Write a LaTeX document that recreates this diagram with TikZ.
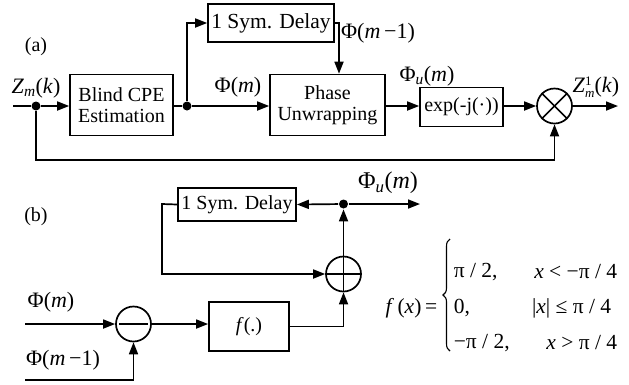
\documentclass[tikz,border=0pt]{standalone}
\usepackage{amsmath}
\usepackage{fontspec}
\setmainfont{Liberation Serif}
\usetikzlibrary{arrows.meta,decorations.pathreplacing}
\newcommand{\supsub}[2]{\rlap{\raisebox{7pt}{\fontsize{13}{13}\selectfont #1}}\raisebox{-5pt}{\fontsize{13}{13}\selectfont #2}}
\begin{document}
\begin{tikzpicture}[x=1pt,y=-1pt,
  font=\fontsize{20}{23}\selectfont,
  line width=1.7pt,
  >={Triangle[length=12pt,width=9pt]},
  blk/.style={draw, line width=1.7pt, inner sep=0pt, align=center},
  dotn/.style={circle, fill, inner sep=0pt, minimum size=9pt},
  op/.style={circle, draw, line width=1.7pt, minimum size=35pt, inner sep=0pt},
  lbl/.style={inner sep=0pt},
  mlbl/.style={inner sep=0pt, font=\fontsize{22}{25}\selectfont},
  eq/.style={inner sep=0pt, font=\fontsize{21.5}{24}\selectfont}]
\useasboundingbox (0,0) rectangle (629,384);

% ---------- panel (a) ----------
\node[lbl] (la) at (36,47) {(a)};
\coordinate (in) at (13,106);
\node[dotn] (d1) at (36,106) {};
\node[blk, minimum width=103pt, minimum height=61pt] (cpe) at (121.5,105) {Blind CPE\\[-2pt]Estimation};
\node[dotn] (d2) at (187,106) {};
\node[blk, minimum width=126pt, minimum height=38pt, font=\fontsize{21.5}{24}\selectfont] (dly1) at (271,23) {1 Sym. Delay};
\node[blk, minimum width=115pt, minimum height=61pt] (phase) at (327.5,105) {Phase\\[-2pt]Unwrapping};
\node[blk, minimum width=83pt, minimum height=39pt] (exp) at (461.5,107) {exp(-j(·))};
\node[op] (mult) at (554.5,106) {};
\coordinate (out) at (618,106);
\coordinate (c1) at (339,23);
\coordinate (fb) at (36,160);

\draw (in) -- (d1);
\draw[->] (d1) -- (cpe.west |- d1);
\draw (cpe.east |- d2) -- (d2);
\draw[->] (d2) -- (phase.west |- d2);
\draw[->] (d2) |- (dly1.west);
\draw[->] (dly1.east) -- (c1) -- (c1 |- phase.north);
\draw[->] (phase.east |- d2) -- (exp.west |- d2);
\draw[->] (exp.east |- d2) -- (mult.west);
\draw[->] (mult.east) -- (out);
\draw[->] (d1) -- (fb) -| (mult.south);
\draw (mult.north east) -- (mult.south west);
\draw (mult.north west) -- (mult.south east);

\node[mlbl] (lz) at (36,88) {\textit{Z}$_{\textit{m}}$(\textit{k})};
\node[mlbl] (lphi) at (238,87) {Φ(\textit{m})};
\node[mlbl] (lphi1) at (378,33) {Φ(\textit{m}\,−1)};
\node[mlbl] (lphiu) at (427,76) {Φ$_{\textit{u}}$(\textit{m})};
\node[mlbl] (lz1) at (596,87) {\textit{Z}\supsub{1}{\textit{m}}(\textit{k})};

% ---------- panel (b) ----------
\node[lbl] (lb) at (36,217) {(b)};
\node[blk, minimum width=118pt, minimum height=33pt] (dly2) at (237,204.5) {1 Sym. Delay};
\node[dotn] (db) at (343.5,204) {};
\coordinate (ob) at (420,204);
\node[op] (add) at (343.5,274) {};
\node[op] (sub) at (133.5,324) {};
\node[blk, minimum width=80pt, minimum height=49pt] (fbox) at (249,326.5) {\textit{f}(.)};
\coordinate (fbk) at (162,204);
\coordinate (inm) at (25,324);
\coordinate (inm1) at (25,380);

\draw[->] (db) -- (dly2.east);
\draw[->] (db) -- (ob);
\draw[->] (dly2.west) -- (fbk) |- (add.west);
\draw[->] (add.north) -- (db);
\draw (add.west) -- (add.east);
\draw (add.north) -- (add.south);
\draw[->] (inm) -- (sub.west);
\draw[->] (inm1) -| (sub.south);
\draw ([xshift=4pt]sub.west) -- ([xshift=-4pt]sub.east);
\draw[->] (sub.east) -- (fbox.west |- sub.east);
\draw[->] (fbox.east) -| (add.south);

\node[mlbl, font=\fontsize{24}{27}\selectfont] (lphiub) at (388,183) {Φ$_{\textit{u}}$(\textit{m})};
\node[mlbl] (lphib) at (51,302) {Φ(\textit{m})};
\node[mlbl] (lphib1) at (63,360) {Φ(\textit{m}\,−1)};

% equation
\node[eq, anchor=east] (feq) at (438,308) {\textit{f}\,(\textit{x})\,=};
\coordinate (bt) at (450,239);
\coordinate (bb) at (450,351);
\draw[line width=1.1pt, decorate, decoration={brace, amplitude=7pt}] (bb) -- (bt);
\node[eq, anchor=west] (r1a) at (453,272) {π / 2,};
\node[eq, anchor=east] (r1b) at (618,272) {\textit{x} < −π / 4};
\node[eq, anchor=west] (r2a) at (453,308) {0,};
\node[eq, anchor=east] (r2b) at (612,308) {|\textit{x}| ≤ π / 4};
\node[eq, anchor=west] (r3a) at (453,343) {−π / 2,};
\node[eq, anchor=east] (r3b) at (618,343) {\textit{x} > π / 4};
\end{tikzpicture}
\end{document}
